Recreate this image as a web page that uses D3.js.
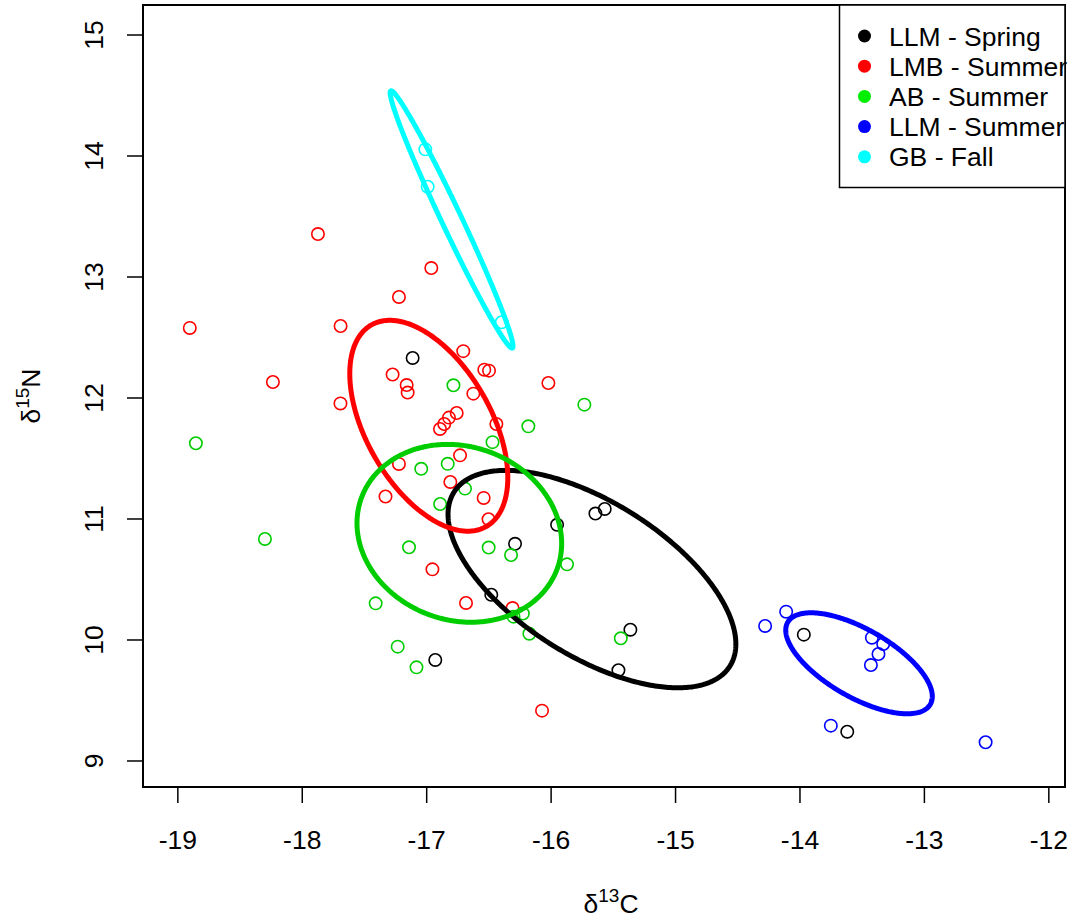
<!DOCTYPE html>
<html>
<head>
<meta charset="utf-8">
<script src="https://cdn.jsdelivr.net/npm/d3@7"></script>
<style>
  body { margin: 0; background: #fff; }
  svg { font-family: "Liberation Sans", Arial, sans-serif; }
</style>
</head>
<body>
<div id="chart"></div>
<script>
// Group names, colours and the d13C / d15N values
const groups = ["LLM - Spring", "LMB - Summer", "AB - Summer", "LLM - Summer", "GB - Fall"]
const colours = ["#000000", "#FF0000", "#00CD00", "#0000FF", "#00FFFF"]
const legendColours = ["#000000", "#FF0000", "#00EE00", "#0000FF", "#00FFFF"]

const llmSpringC = [-17.113, -15.952, -15.644, -15.569, -16.290, -16.481, -16.931, -15.363, -15.459, -13.969, -13.620]
const llmSpringN = [12.331, 10.952, 11.045, 11.083, 10.795, 10.374, 9.835, 10.085, 9.750, 10.044, 9.242]

const lmbSummerC = [-18.904, -18.236, -17.874, -17.692, -17.693, -16.963, -17.223, -17.274, -17.161, -17.153,
                    -16.706, -16.537, -16.499, -16.022, -16.625, -16.893, -16.859, -16.821, -16.759, -16.440,
                    -16.732, -17.223, -16.810, -16.542, -17.331, -16.503, -16.954, -16.684, -16.310, -16.073]
const lmbSummerN = [12.579, 12.132, 13.355, 12.595, 11.955, 13.074, 12.835, 12.194, 12.107, 12.045,
                    12.387, 12.234, 12.226, 12.124, 12.036, 11.744, 11.785, 11.838, 11.876, 11.785,
                    11.526, 11.455, 11.306, 11.174, 11.186, 10.998, 10.584, 10.306, 10.264, 9.416]

const abSummerC = [-18.855, -18.300, -16.785, -15.733, -16.183, -16.471, -17.044, -16.831, -16.692, -16.892,
                   -17.142, -16.502, -16.322, -15.872, -17.410, -16.302, -16.227, -16.175, -17.233, -17.082, -15.440]
const abSummerN = [11.626, 10.835, 12.105, 11.945, 11.766, 11.635, 11.415, 11.456, 11.251, 11.124,
                   10.766, 10.764, 10.702, 10.625, 10.303, 10.193, 10.219, 10.052, 9.945, 9.774, 10.014]

const llmSummerC = [-14.111, -14.280, -13.422, -13.331, -13.369, -13.430, -13.752, -12.508]
const llmSummerN = [10.234, 10.116, 10.019, 9.967, 9.884, 9.793, 9.292, 9.155]

const gbFallC = [-17.011, -16.992, -16.397]
const gbFallN = [14.055, 13.746, 12.626]

const seriesC = [llmSpringC, lmbSummerC, abSummerC, llmSummerC, gbFallC]
const seriesN = [llmSpringN, lmbSummerN, abSummerN, llmSummerN, gbFallN]

const xTicks = [-19, -18, -17, -16, -15, -14, -13, -12]
const yTicks = [9, 10, 11, 12, 13, 14, 15]

// Chart geometry
const WIDTH = 1076
const HEIGHT = 922
const PLOT = {LEFT: 143, RIGHT: 1065, TOP: 5, BOTTOM: 787}
const FONT = 26.5

const xScale = d3.scaleLinear().domain([-19.28, -11.87]).range([PLOT.LEFT, PLOT.RIGHT])
const yScale = d3.scaleLinear().domain([8.785, 15.248]).range([PLOT.BOTTOM, PLOT.TOP])

const svg = d3.select("#chart").append("svg")
    .attr("width", WIDTH)
    .attr("height", HEIGHT)

const clip = svg.append("clipPath").attr("id", "plotclip")
    .append("rect")
    .attr("x", PLOT.LEFT).attr("y", PLOT.TOP)
    .attr("width", PLOT.RIGHT - PLOT.LEFT).attr("height", PLOT.BOTTOM - PLOT.TOP)

const plot = svg.append("g").attr("clip-path", "url(#plotclip)")

// Points: open circles
seriesC.forEach((cs, g) => {
    const pts = cs.map((c, i) => ({c: c, n: seriesN[g][i]}))
    plot.append("g").selectAll("circle")
        .data(pts)
        .enter()
        .append("circle")
        .attr("cx", d => xScale(d.c))
        .attr("cy", d => yScale(d.n))
        .attr("r", 6.2)
        .style("fill", "none")
        .style("stroke", colours[g])
        .style("stroke-width", 1.6)
})

// Small-sample corrected standard ellipse (SEAc) from each group's covariance
function ellipsePoints(cs, ns) {
    const n = cs.length
    const mx = d3.mean(cs), my = d3.mean(ns)
    let sxx = 0, syy = 0, sxy = 0
    for (let i = 0; i < n; i++) {
        sxx += (cs[i] - mx) ** 2
        syy += (ns[i] - my) ** 2
        sxy += (cs[i] - mx) * (ns[i] - my)
    }
    const k = (n - 1) / (n - 2)
    sxx = sxx / (n - 1) * k
    syy = syy / (n - 1) * k
    sxy = sxy / (n - 1) * k
    // Cholesky factor of the covariance
    const a = Math.sqrt(sxx)
    const b = sxy / a
    const c = Math.sqrt(syy - b * b)
    const out = []
    for (let t = 0; t <= 360; t++) {
        const th = t * Math.PI / 180
        const u = Math.cos(th), v = Math.sin(th)
        out.push([mx + a * u, my + b * u + c * v])
    }
    return out
}

const line = d3.line()
    .x(d => xScale(d[0]))
    .y(d => yScale(d[1]))

seriesC.forEach((cs, g) => {
    plot.append("path")
        .attr("d", line(ellipsePoints(cs, seriesN[g])) + "Z")
        .style("fill", "none")
        .style("stroke", colours[g])
        .style("stroke-width", 5)
})

// Plot box
svg.append("rect")
    .attr("x", PLOT.LEFT).attr("y", PLOT.TOP)
    .attr("width", PLOT.RIGHT - PLOT.LEFT).attr("height", PLOT.BOTTOM - PLOT.TOP)
    .style("fill", "none").style("stroke", "#000").style("stroke-width", 2)

// x axis
const xAxis = svg.append("g")
xAxis.selectAll("line").data(xTicks).enter().append("line")
    .attr("x1", d => xScale(d)).attr("x2", d => xScale(d))
    .attr("y1", PLOT.BOTTOM).attr("y2", PLOT.BOTTOM + 16)
    .style("stroke", "#000").style("stroke-width", 1.5)
xAxis.selectAll("text").data(xTicks).enter().append("text")
    .attr("x", d => xScale(d)).attr("y", 849)
    .attr("text-anchor", "middle")
    .style("font-size", FONT + "px")
    .text(d => d)

// y axis
const yAxis = svg.append("g")
yAxis.selectAll("line").data(yTicks).enter().append("line")
    .attr("x1", PLOT.LEFT - 16).attr("x2", PLOT.LEFT)
    .attr("y1", d => yScale(d)).attr("y2", d => yScale(d))
    .style("stroke", "#000").style("stroke-width", 1.5)
yAxis.selectAll("text").data(yTicks).enter().append("text")
    .attr("transform", d => "translate(103," + yScale(d) + ") rotate(-90)")
    .attr("text-anchor", "middle")
    .style("font-size", FONT + "px")
    .text(d => d)

// Axis titles
const xTitle = svg.append("text")
    .attr("x", 611).attr("y", 913)
    .attr("text-anchor", "middle")
    .style("font-size", FONT + "px")
xTitle.append("tspan").text("δ")
xTitle.append("tspan").attr("dy", -11).style("font-size", "19px").text("13")
xTitle.append("tspan").attr("dy", 11).text("C")

const yTitle = svg.append("text")
    .attr("transform", "translate(40," + ((PLOT.TOP + PLOT.BOTTOM) / 2) + ") rotate(-90)")
    .attr("text-anchor", "middle")
    .style("font-size", FONT + "px")
yTitle.append("tspan").text("δ")
yTitle.append("tspan").attr("dy", -11).style("font-size", "19px").text("15")
yTitle.append("tspan").attr("dy", 11).text("N")

// Legend
const legend = svg.append("g")
legend.append("rect")
    .attr("x", 839.5).attr("y", 5)
    .attr("width", PLOT.RIGHT - 839.5).attr("height", 182.5)
    .style("fill", "#fff").style("stroke", "#000").style("stroke-width", 1.5)

groups.forEach((name, i) => {
    const cy = 36 + i * 30.2
    legend.append("circle")
        .attr("cx", 864.5).attr("cy", cy).attr("r", 6.5)
        .style("fill", legendColours[i])
    legend.append("text")
        .attr("x", 889).attr("y", cy + 9.5)
        .style("font-size", FONT + "px")
        .text(name)
})
</script>
</body>
</html>
